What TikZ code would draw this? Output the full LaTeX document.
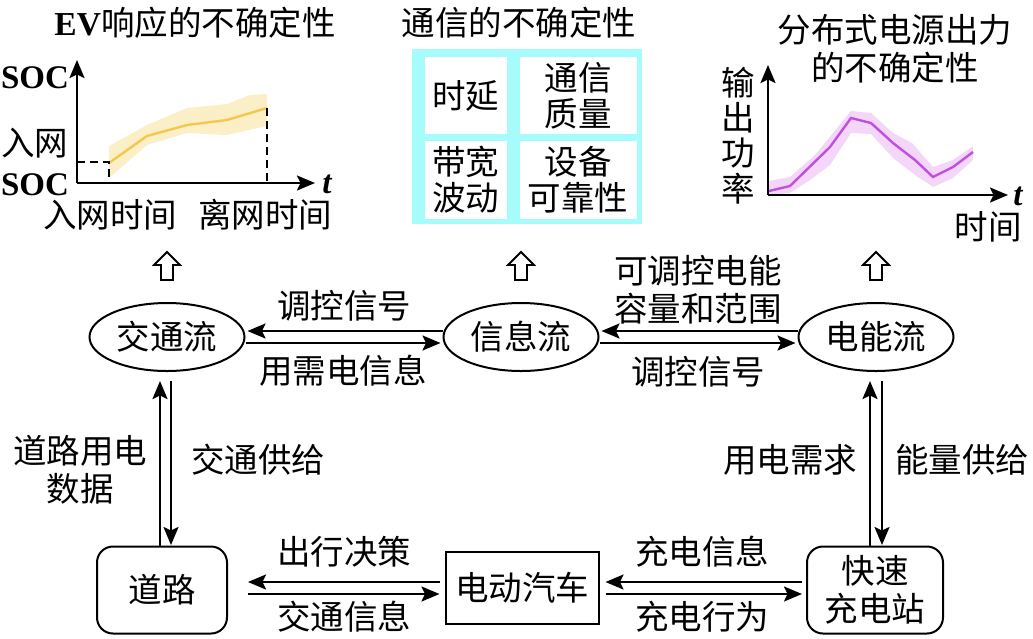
\documentclass[tikz,border=0pt]{standalone}
\usepackage{fontspec}
\setmainfont{Noto Sans CJK SC}
\newfontfamily\ser{Liberation Serif}
\usetikzlibrary{arrows.meta,shapes.geometric}
\definecolor{bandY}{HTML}{FBEFC8}
\definecolor{lineY}{HTML}{F5C84C}
\definecolor{bandP}{HTML}{F3D6F8}
\definecolor{lineP}{HTML}{C050E0}
\definecolor{frameC}{HTML}{A6FBFB}
\tikzset{
  lab/.style={inner sep=0pt,align=center,font=\fontsize{33.5}{38}\selectfont},
  latin/.style={inner sep=0pt,font=\fontsize{33}{36}\selectfont\ser\bfseries},
  tvar/.style={inner sep=0pt,font=\fontsize{33}{36}\selectfont\ser\itshape\bfseries},
  flow/.style={draw,line width=2pt,ellipse,minimum width=155pt,minimum height=68pt,inner sep=0pt,font=\fontsize{33.5}{38}\selectfont},
  roundbox/.style={draw,line width=2pt,rounded corners=16pt,inner sep=0pt,align=center,font=\fontsize{33.5}{38}\selectfont},
  plainbox/.style={draw,line width=2pt,inner sep=0pt,font=\fontsize{33.5}{38}\selectfont},
  cell/.style={fill=white,inner sep=0pt,align=center,font=\fontsize{33.5}{36}\selectfont},
  conn/.style={line width=2.2pt,-{Stealth[length=18pt,width=15pt,inset=3.5pt]}},
  axisline/.style={line width=2.2pt,-{Stealth[length=18pt,width=15pt,inset=3.5pt]}},
  dashline/.style={line width=2pt,dash pattern=on 8pt off 5pt},
  hollow/.style={draw,line width=1.8pt,fill=white,line join=miter}
}
\begin{document}
\begin{tikzpicture}[x=1pt,y=-1pt]
\useasboundingbox (0,0) rectangle (1033,638);
% titles
\node[lab] (t1) at (195,23) {{\ser\bfseries EV}响应的不确定性};
\node[lab] (t2) at (519,23) {通信的不确定性};
\node[lab] (t3) at (895,49) {分布式电源出力\\的不确定性};
% chart 1
\fill[bandY] (109,146)--(147,125)--(187,108)--(227,104)--(250,95)--(267,94)--(267,126)--(227,135)--(187,133)--(147,145)--(109,178)--cycle;
\draw[lineY,line width=2.4pt] (109,163)--(147,136)--(187,125)--(227,120)--(267,108);
\coordinate (o1) at (77,183);
\coordinate (y1) at (77,60);
\coordinate (x1) at (315,183);
\draw[axisline] (o1)--(y1);
\draw[axisline] (o1)--(x1);
\draw[dashline] (77,162)--(109,162)--(109,183);
\draw[dashline] (267,108)--(267,183);
\node[latin] (soc1) at (35,78) {SOC};
\node[lab] (inw) at (35,143) {入网};
\node[latin] (soc2) at (35,185) {SOC};
\node[tvar] (t1v) at (327,184) {t};
\node[lab] (in1) at (110,215) {入网时间};
\node[lab] (off1) at (265,215) {离网时间};
% table
\node[fill=frameC,minimum width=230pt,minimum height=175pt,inner sep=0pt] (frame) at (527,136.5) {};
\node[cell,minimum width=82pt,minimum height=77.5pt] (c1) at (465.5,95.5) {时延};
\node[cell,minimum width=117pt,minimum height=77.5pt] (c2) at (578,95.5) {通信\\质量};
\node[cell,minimum width=82pt,minimum height=78pt] (c3) at (465.5,180) {带宽\\波动};
\node[cell,minimum width=117pt,minimum height=78pt] (c4) at (578,180) {设备\\可靠性};
% chart 3
\fill[bandP] (769,181)--(790,177)--(815,155)--(851,111)--(871,113)--(893,133)--(912,143)--(933,167)--(953,160)--(973,146)--(973,160)--(953,178)--(933,187)--(915,175)--(893,158)--(871,134)--(851,133)--(830,165)--(810,180)--(790,193)--(769,195)--cycle;
\draw[lineP,line width=2.4pt] (769,191)--(790,186)--(830,147)--(851,118)--(871,123)--(893,143)--(915,160)--(933,177)--(953,167)--(973,152);
\coordinate (o3) at (768,195);
\coordinate (y3) at (768,65);
\coordinate (x3) at (1008,195);
\draw[axisline] (o3)--(y3);
\draw[axisline] (o3)--(x3);
\node[lab] (pw1) at (738,83) {输};
\node[lab] (pw2) at (738,118) {出};
\node[lab] (pw3) at (738,153) {功};
\node[lab] (pw4) at (738,189) {率};
\node[tvar] (t3v) at (1018,196) {t};
\node[lab,text height=28pt,text depth=2.6pt] (tm) at (988,227) {时间};
% hollow arrows
\foreach \cx in {167,521,876}{
  \draw[hollow] (\cx-6,280)--(\cx-6,265)--(\cx-13,265)--(\cx,252)--(\cx+13,265)--(\cx+6,265)--(\cx+6,280)--cycle;
}
% flows
\node[flow] (jt) at (167,337) {交通流};
\node[flow] (xx) at (521,337) {信息流};
\node[flow] (dn) at (876,337) {电能流};
\node[roundbox,minimum width=130pt,minimum height=87pt] (dl) at (162,590) {道路};
\node[plainbox,minimum width=153pt,minimum height=72pt] (ev) at (522,588) {电动汽车};
\node[roundbox,minimum width=136pt,minimum height=87pt] (kc) at (875,590) {快速\\充电站};
% connectors
\draw[conn,shorten >=2pt] ([yshift=6pt]xx.west) -- ([yshift=6pt]jt.east);
\draw[conn,shorten >=2pt] ([yshift=-6pt]jt.east) -- ([yshift=-6pt]xx.west);
\draw[conn,shorten >=2pt] ([yshift=6pt]dn.west) -- ([yshift=6pt]xx.east);
\draw[conn,shorten >=2pt] ([yshift=-6pt]xx.east) -- ([yshift=-6pt]dn.west);
\draw[conn,shorten >=20pt,shorten <=5pt] (ev.west |- 0,582) -- (dl.east |- 0,582);
\draw[conn,shorten >=5pt,shorten <=20pt] (dl.east |- 0,594) -- (ev.west |- 0,594);
\draw[conn,shorten >=6pt,shorten <=4pt] (kc.west |- 0,582) -- (ev.east |- 0,582);
\draw[conn,shorten >=4pt,shorten <=6pt] (ev.east |- 0,594) -- (kc.west |- 0,594);
\draw[conn,shorten >=9pt] (160,546) -- (160,372);
\draw[conn,shorten >=1pt,shorten <=9pt] (171,372) -- (171,546);
\draw[conn,shorten >=9pt] (870,546) -- (870,372);
\draw[conn,shorten >=1pt,shorten <=9pt] (882,372) -- (882,546);
% labels
\node[lab] (a1) at (344,306) {调控信号};
\node[lab] (a2) at (343,371) {用需电信息};
\node[lab] (a3) at (698,290) {可调控电能\\容量和范围};
\node[lab] (a4) at (698,372) {调控信号};
\node[lab] (b1) at (80,470) {道路用电\\数据};
\node[lab] (b2) at (258,460) {交通供给};
\node[lab] (b3) at (790,460) {用电需求};
\node[lab] (b4) at (962,460) {能量供给};
\node[lab] (c1l) at (344,552) {出行决策};
\node[lab] (c2l) at (344,617) {交通信息};
\node[lab] (c3l) at (702,552) {充电信息};
\node[lab] (c4l) at (702,617) {充电行为};
\end{tikzpicture}
\end{document}
